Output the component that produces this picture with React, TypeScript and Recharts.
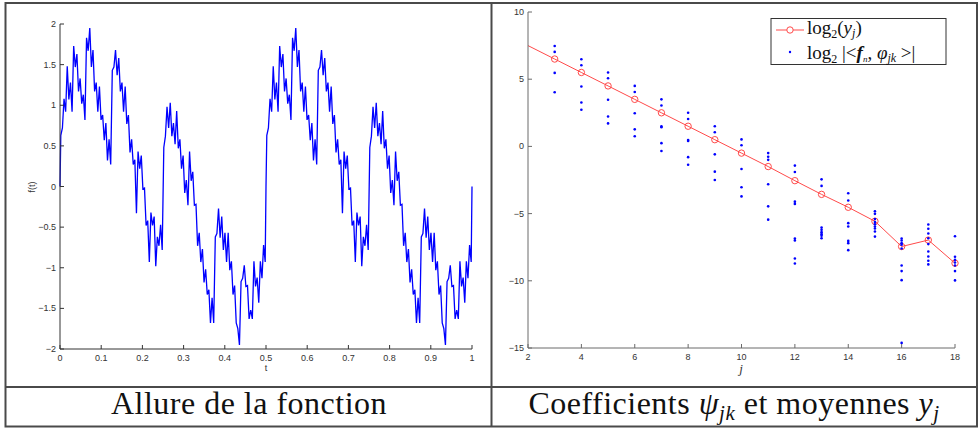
import React from "react";
import { ComposedChart, Line, LineChart, Scatter, XAxis, YAxis } from "recharts";

// f(t), one value every 1/256 on [0, 0.5] (upper / lower edge of the band
// in turn); the picture repeats the same shape on [0.5, 1]
const fHalf = [
  0.63, 0.72, 1.08, 0.92, 1.48, 1.07, 1.28, 0.92,
  1.73, 1.47, 1.63, 1.17, 1.33, 1.02, 1.13, 0.82,
  1.83, 1.67, 1.95, 1.47, 1.68, 1.17, 1.28, 0.92,
  1.23, 0.82, 0.88, 0.57, 0.78, 0.32, 0.58, 0.27,
  1.43, 1.47, 1.68, 1.37, 1.58, 1.17, 1.28, 0.92,
  1.23, 0.77, 0.88, 0.42, 0.58, 0.27, 0.33, -0.33,
  0.43, 0.22, 0.38, -0.03, -0.02, -0.48, -0.42, -0.93,
  -0.32, -0.48, -0.37, -0.98, -0.62, -0.73, -0.47, -0.78,
  0.48, 0.62, 0.98, 0.72, 1.03, 0.62, 0.78, 0.52,
  0.93, 0.47, 0.58, 0.22, 0.38, -0.08, 0.08, -0.23,
  0.43, 0.07, 0.18, -0.23, -0.22, -0.73, -0.57, -0.93,
  -0.77, -1.18, -1.02, -1.33, -1.27, -1.68, -1.37, -1.68,
  -0.62, -0.58, -0.27, -0.63, -0.37, -0.78, -0.57, -0.93,
  -0.57, -1.03, -0.92, -1.33, -1.22, -1.68, -1.75, -1.95,
  -1.17, -1.13, -0.97, -1.23, -1.22, -1.63, -1.52, -1.63,
  -0.92, -1.23, -1.12, -1.43, -0.92, -1.13, -0.72, -0.93,
];
const fJoin = 0; // value at t = 0, 0.5 and 1

const tTicks = [0, 0.1, 0.2, 0.3, 0.4, 0.5, 0.6, 0.7, 0.8, 0.9, 1];
const fTicks = [-2, -1.5, -1, -0.5, 0, 0.5, 1, 1.5, 2];

// right panel
const levels = [2, 3, 4, 5, 6, 7, 8, 9, 10, 11, 12, 13, 14, 15, 16, 17, 18];
const log2y = [7.5, 6.5, 5.5, 4.5, 3.5, 2.5, 1.5, 0.5, -0.5, -1.5, -2.55, -3.57, -4.53, -5.57, -7.45, -6.97, -8.69];

const coefLevels = [3, 4, 5, 6, 7, 8, 9, 10, 11, 12, 13, 14, 15, 16, 17, 18];
const coefValues = [
  [7.47, 7.03, 5.47, 4.03],
  [6.48, 6.04, 4.46, 3.27, 2.73],
  [5.5, 5.07, 3.47, 2.23, 1.71],
  [4.5, 4.05, 2.47, 1.27, 0.75],
  [3.5, 3.04, 1.5, 1.42, 0.24, -0.34],
  [2.5, 2.04, 0.47, 0.4, -0.8, -1.37],
  [1.5, 1.05, -0.59, -1.88, -2.5],
  [0.52, 0.08, -1.68, -3.04, -3.72],
  [-0.5, -0.77, -1.0, -2.82, -4.46, -5.45],
  [-1.43, -1.9, -4.11, -4.28, -6.86, -7.0, -8.34, -8.71],
  [-2.45, -2.94, -6.04, -6.21, -6.38, -6.53, -6.65, -6.83],
  [-3.49, -4.03, -5.71, -5.96, -7.03, -7.2, -7.72],
  [-4.82, -5.02, -5.41, -5.62, -5.79, -5.96, -6.11, -6.33, -6.71],
  [-6.85, -7.0, -7.2, -7.32, -7.6, -8.86, -9.28, -9.95, -14.62],
  [-5.81, -6.13, -6.48, -6.83, -7.27, -7.82, -8.19, -8.51, -8.78],
  [-6.68, -8.21, -8.44, -8.64, -8.86, -9.28, -9.97],
];

const jTicks = [2, 4, 6, 8, 10, 12, 14, 16, 18];
const yTicks = [-15, -10, -5, 0, 5, 10];

const fRows: { t: number; f: number }[] = [{ t: 0, f: fJoin }];
fHalf.forEach((f, i) => fRows.push({ t: (i + 0.5) / 256, f }));
fRows.push({ t: 0.5, f: fJoin });
fHalf.forEach((f, i) => fRows.push({ t: 0.5 + (i + 0.5) / 256, f }));
fRows.push({ t: 1, f: fJoin });

const lineRows = levels.map((j, i) => ({ j, v: log2y[i] }));
const dotRows = coefLevels.flatMap((j, i) => coefValues[i].map((v) => ({ j, v })));

const SANS = "Liberation Sans, Arial, sans-serif";
const SERIF = "Liberation Serif, DejaVu Serif, serif";
const fmt = (v: number) => (v < 0 ? "\u2212" + String(-v) : String(v));

// MATLAB-like ticks: marks inside the box, labels outside
function tick(side: "bottom" | "top" | "left" | "right", color: string, labels: boolean) {
  return (p: any) => {
    const { x, y, payload, index } = p;
    const k = `${side}-${index}`;
    if (side === "bottom")
      return (
        <g key={k}>
          <line x1={x} x2={x} y1={y} y2={y - 4} stroke={color} />
          {labels && (
            <text x={x} y={y + 12} textAnchor="middle" fontSize={9} fill="#333" fontFamily={SANS}>
              {fmt(payload.value)}
            </text>
          )}
        </g>
      );
    if (side === "top")
      return <line key={k} x1={x} x2={x} y1={y} y2={y + 4} stroke={color} />;
    if (side === "right")
      return <line key={k} x1={x} x2={x - 4} y1={y} y2={y} stroke={color} />;
    return (
      <g key={k}>
        <line x1={x} x2={x + 4} y1={y} y2={y} stroke={color} />
        {labels && (
          <text x={x - 4} y={y + 3} textAnchor="end" fontSize={9} fill="#333" fontFamily={SANS}>
            {fmt(payload.value)}
          </text>
        )}
      </g>
    );
  };
}

function FunctionPlot() {
  const c = "#333";
  return (
    <LineChart width={490} height={385} data={fRows} margin={{ top: 24, right: 18, bottom: 0, left: 0 }}>
      <XAxis xAxisId="b" dataKey="t" type="number" domain={[0, 1]} ticks={tTicks} interval={0}
        height={36} tickSize={0} tickMargin={0} tickLine={false} axisLine={{ stroke: c }}
        tick={tick("bottom", c, true)} />
      <XAxis xAxisId="t" orientation="top" dataKey="t" type="number" domain={[0, 1]} ticks={tTicks}
        interval={0} height={0} tickSize={0} tickMargin={0} tickLine={false} axisLine={{ stroke: c }}
        tick={tick("top", c, false)} />
      <YAxis yAxisId="l" type="number" domain={[-2, 2]} ticks={fTicks} interval={0} width={60}
        tickSize={0} tickMargin={0} tickLine={false} axisLine={{ stroke: c }} tick={tick("left", c, true)} />
      <YAxis yAxisId="r" orientation="right" type="number" domain={[-2, 2]} ticks={fTicks} interval={0}
        width={0} tickSize={0} tickMargin={0} tickLine={false} axisLine={{ stroke: c }}
        tick={tick("right", c, false)} />
      <Line xAxisId="b" yAxisId="l" type="linear" dataKey="f" stroke="#0000ff" strokeWidth={1.3}
        dot={false} isAnimationActive={false} />
    </LineChart>
  );
}

function CoefPlot() {
  const c = "#6a6a6a";
  return (
    <ComposedChart width={490} height={385} margin={{ top: 12, right: 25, bottom: 1, left: 0 }}>
      <XAxis dataKey="j" type="number" domain={[2, 18]} ticks={jTicks} interval={0} height={36}
        tickSize={0} tickMargin={0} tickLine={false} axisLine={{ stroke: c }} tick={tick("bottom", c, true)} />
      <YAxis dataKey="v" type="number" domain={[-15, 10]} ticks={yTicks} interval={0} width={38}
        tickSize={0} tickMargin={0} tickLine={false} axisLine={{ stroke: c }} tick={tick("left", c, true)} />
      <Line data={lineRows} dataKey="v" type="linear" stroke="#ff4a4a" strokeWidth={1}
        isAnimationActive={false}
        dot={(p: any) =>
          p.payload.j === 2 ? (
            <g key={`o-${p.index}`} />
          ) : (
            <circle key={`o-${p.index}`} cx={p.cx} cy={p.cy} r={3.2} fill="none" stroke="#ff4a4a" />
          )
        } />
      <Scatter data={dotRows} dataKey="v" isAnimationActive={false}
        shape={(p: any) => <circle cx={p.cx} cy={p.cy} r={1.3} fill="#0000ff" />} />
    </ComposedChart>
  );
}

export default function App() {
  const border = "#4a4a4a";
  return (
    <div style={{ position: "absolute", left: 0, top: 0, width: 980, height: 430, background: "#fff" }}>
      <div style={{ position: "absolute", left: 0, top: 0 }}>
        <FunctionPlot />
      </div>
      <div style={{ position: "absolute", left: 490, top: 0 }}>
        <CoefPlot />
      </div>
      <svg width={980} height={430} style={{ position: "absolute", left: 0, top: 0, pointerEvents: "none" }}>
        {/* table */}
        <rect x={5.5} y={3} width={971.5} height={423.5} fill="none" stroke={border} strokeWidth={2} />
        <line x1={491.5} x2={491.5} y1={3} y2={426.5} stroke={border} strokeWidth={2} />
        <line x1={5.5} x2={977} y1={387} y2={387} stroke={border} strokeWidth={2} />

        {/* axis titles */}
        <text x={266} y={371} textAnchor="middle" fontSize={9} fill="#333" fontFamily={SANS}>t</text>
        <text x={35} y={187} textAnchor="middle" fontSize={9} fill="#333" fontFamily={SANS}
          transform="rotate(-90 35 187)">f(t)</text>
        <text x={741} y={373} textAnchor="middle" fontSize={13} fill="#333" fontFamily={SERIF}
          fontStyle="italic">j</text>

        {/* legend */}
        <rect x={771} y={18.5} width={175} height={46} fill="#fff" stroke="#333" strokeWidth={1} />
        <line x1={776} x2={804} y1={30} y2={30} stroke="#ff4a4a" />
        <circle cx={790} cy={30} r={3.2} fill="#fff" stroke="#ff4a4a" />
        <circle cx={790} cy={52} r={1.2} fill="#0000ff" />
        <text x={807} y={34} fontSize={19} fontFamily={SERIF} fill="#111">
          log<tspan fontSize={12} dy={4}>2</tspan>
          <tspan dy={-4}>(</tspan>
          <tspan fontStyle="italic">y</tspan>
          <tspan fontStyle="italic" fontSize={12} dy={3}>j</tspan>
          <tspan dy={-3}>)</tspan>
        </text>
        <text x={807} y={59} fontSize={19} fontFamily={SERIF} fill="#111">
          log<tspan fontSize={12} dy={4}>2</tspan>
          <tspan dy={-4}> |&lt;</tspan>
          <tspan fontStyle="italic" fontWeight="bold">f</tspan>
          <tspan fontStyle="italic" fontSize={9} dy={3}>n</tspan>
          <tspan dy={-3}>, </tspan>
          <tspan fontStyle="italic">φ</tspan>
          <tspan fontStyle="italic" fontSize={12} dy={3}>jk</tspan>
          <tspan dy={-3}> &gt;|</tspan>
        </text>

        {/* captions */}
        <text x={249} y={414} textAnchor="middle" fontSize={32} letterSpacing={0.5} fontFamily={SERIF}
          fill="#111">Allure de la fonction</text>
        <text x={734} y={414} textAnchor="middle" fontSize={32} letterSpacing={0.5} fontFamily={SERIF}
          fill="#111">
          Coefficients <tspan fontStyle="italic">ψ</tspan>
          <tspan fontStyle="italic" fontSize={21} dy={6}>jk</tspan>
          <tspan dy={-6}> et moyennes </tspan>
          <tspan fontStyle="italic">y</tspan>
          <tspan fontStyle="italic" fontSize={21} dy={6}>j</tspan>
        </text>
      </svg>
    </div>
  );
}
